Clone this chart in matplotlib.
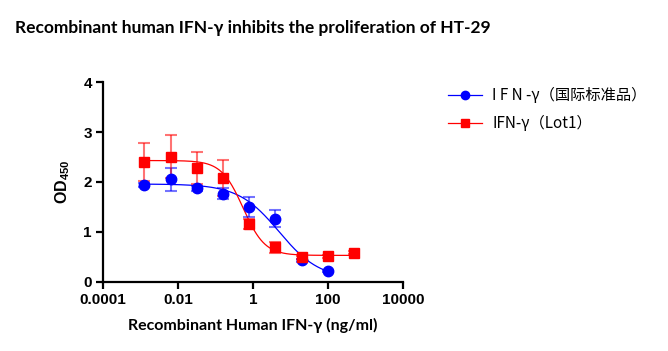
import numpy as np
import matplotlib
matplotlib.use("Agg")
import matplotlib.pyplot as plt
from matplotlib.ticker import FixedLocator, NullLocator

plt.rcParams["mathtext.default"] = "regular"

# ---- data ----
conc_blue = [0.00128, 0.0064, 0.032, 0.16, 0.8, 4, 20, 100]
od_blue = [1.94, 2.05, 1.87, 1.76, 1.50, 1.26, 0.43, 0.21]
err_blue = [0.04, 0.23, 0.05, 0.11, 0.20, 0.17, 0.03, 0.02]

conc_red = [0.00128, 0.0064, 0.032, 0.16, 0.8, 4, 20, 100, 500]
od_red = [2.40, 2.51, 2.28, 2.08, 1.15, 0.69, 0.49, 0.51, 0.58]
err_red = [0.38, 0.43, 0.33, 0.36, 0.10, 0.11, 0.03, 0.03, 0.03]

# 4PL fit parameters (top, bottom, EC50, Hill)
fit_blue = [1.96, 0.05, 5.0, 0.8]
fit_red = [2.43, 0.53, 0.55, 1.5]

xticks = [0.0001, 0.01, 1, 100, 10000]
xtick_labels = ["0.0001", "0.01", "1", "100", "10000"]
yticks = [0, 1, 2, 3, 4]

title = "Recombinant human IFN-\u03b3 inhibits the proliferation of HT-29"
xlabel = "Recombinant Human IFN-\u03b3 (ng/ml)"
label_blue = "I F N -\u03b3（国际标准品）"
label_red = "IFN-\u03b3（Lot1）"

BLUE = "#0000ff"
RED = "#ff0000"


def fourpl(x, p):
    top, bottom, ec50, h = p
    return bottom + (top - bottom) / (1 + (x / ec50) ** h)


fig = plt.figure(figsize=(6.68, 3.51), dpi=100)
ax = fig.add_axes([0.154, 0.197, 0.449, 0.569])

for conc, od, err, p, col, mk, ms, lab in [
    (conc_blue, od_blue, err_blue, fit_blue, BLUE, "o", 7.5, label_blue),
    (conc_red, od_red, err_red, fit_red, RED, "s", 7.5, label_red),
]:
    xs = np.logspace(np.log10(min(conc)), np.log10(max(conc)), 300)
    ax.plot(xs, fourpl(xs, p), color=col, lw=0.9, zorder=2)
    ax.errorbar(conc, od, yerr=err, fmt="none", ecolor=col, alpha=0.55,
                elinewidth=1.5, capsize=4, capthick=1.5, zorder=3)
    ax.plot(conc, od, ls="none", marker=mk, ms=ms, color=col, zorder=4)
    # legend handle
    ax.plot([], [], color=col, lw=0.9, marker=mk, ms=6, label=lab)

ax.set_xscale("log")
ax.set_xlim(0.0001, 10000)
ax.set_ylim(0, 4)
ax.xaxis.set_major_locator(FixedLocator(xticks))
ax.xaxis.set_minor_locator(NullLocator())
ax.set_xticklabels(xtick_labels)
ax.set_yticks(yticks)

for s in ["top", "right"]:
    ax.spines[s].set_visible(False)
for s in ["left", "bottom"]:
    ax.spines[s].set_linewidth(1.6)
ax.tick_params(axis="both", direction="out", length=5, width=1.6,
               labelsize=11, pad=3)
for lab in ax.get_xticklabels() + ax.get_yticklabels():
    lab.set_fontweight("bold")
    lab.set_family("Liberation Sans")

ax.set_xlabel(xlabel, fontsize=11.5, fontweight="bold", family="Lato", labelpad=8)
ax.set_ylabel("OD$_{450}$", fontsize=11.5, fontweight="bold",
              family="Liberation Sans", labelpad=8)

fig.text(0.022, 0.92, title, fontsize=12.5, fontweight="bold", family="Lato",
         ha="left", va="center")

leg = ax.legend(loc="upper left", bbox_to_anchor=(1.105, 1.045), frameon=False,
                prop={"family": ["Noto Sans CJK SC", "DejaVu Sans"], "size": 11},
                handlelength=2.2, labelspacing=0.75, handletextpad=0.7)

fig.savefig("out.png", dpi=100)
